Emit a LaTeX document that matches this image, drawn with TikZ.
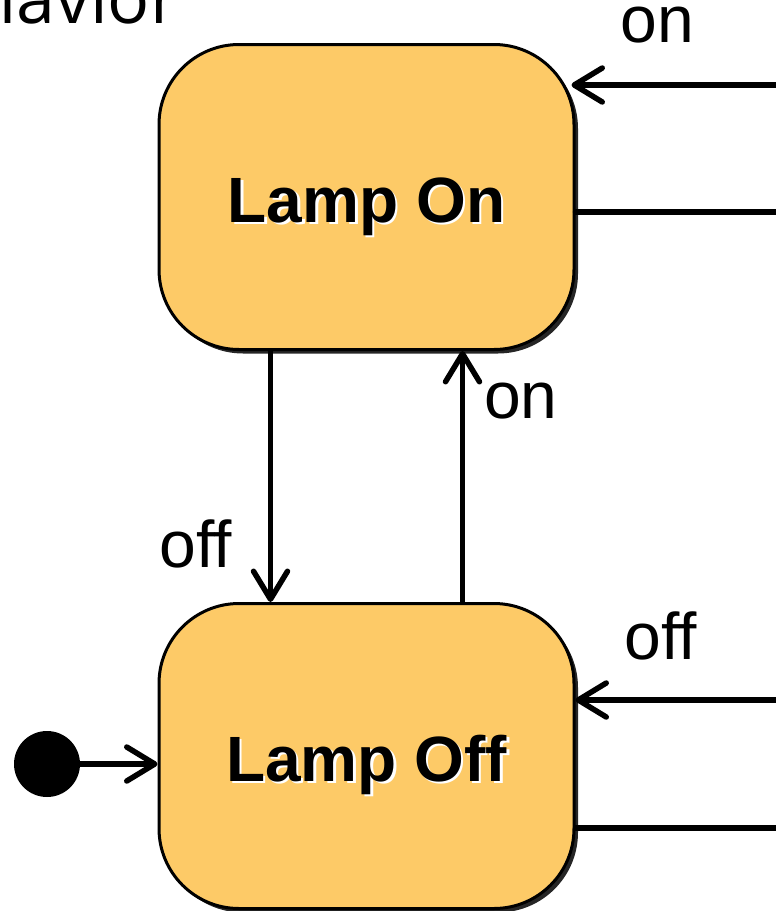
\documentclass[tikz,border=0pt]{standalone}
\usepackage{fontspec}
\setmainfont[Ligatures=NoCommon]{Liberation Sans}
\newfontfamily\titlefont{Open Sans}
\usetikzlibrary{arrows.meta,calc,shadows}
\definecolor{lampfill}{HTML}{FDCA67}
\newcommand{\whiteshade}[1]{\makebox[0pt][l]{\hspace{2.5pt}\raisebox{-2.5pt}{\color{white}#1}}#1}

\begin{document}
\begin{tikzpicture}[x=1pt,y=-1pt,>={Straight Barb[length=28pt,width=34pt,round]},
  state/.style={draw,line width=3pt,fill=lampfill,rounded corners=80pt,minimum width=415pt,minimum height=305pt,
    text height=50pt,text depth=0pt,font=\fontsize{64}{70}\selectfont\bfseries,
    drop shadow={shadow xshift=4pt,shadow yshift=-4pt,opacity=1,fill=black!85}},
  trans/.style={line width=5.5pt,line cap=round},
  lbl/.style={inner sep=0pt,font=\fontsize{66}{72}\selectfont}]
  \useasboundingbox (0,0) rectangle (776,911);
  \node[anchor=base east,inner sep=0pt,font=\titlefont\fontsize{70}{76}\selectfont] (title) at (179,23) {Behavior};
  \node[state] (on) at (366.5,197) {\whiteshade{Lamp On}};
  \node[state] (off) at (366.5,756) {\whiteshade{Lamp Off}};
  \node[circle,fill,inner sep=0pt,minimum size=66pt] (init) at (47,764) {};
  % free ends at the right border
  \coordinate (onIn) at (776,85);
  \coordinate (onOut) at (776,212);
  \coordinate (offIn) at (776,700);
  \coordinate (offOut) at (776,828);
  \draw[trans,->] (onIn) -- ([xshift=-4pt]onIn -| on.east) node[lbl,pos=0.58,above=39pt] {on};
  \draw[trans] (on.east |- onOut) -- (onOut);
  \draw[trans,->] ([xshift=-96pt]on.south) -- ([xshift=-96pt]off.north) node[lbl,pos=0.77,left=36pt] {off};
  \draw[trans,->] ([xshift=96pt]off.north) -- ([xshift=96pt]on.south) node[lbl,pos=0.8,right=19pt] {on};
  \draw[trans,->] (offIn) -- (offIn -| off.east) node[lbl,pos=0.575,above=37pt] {off};
  \draw[trans] (off.east |- offOut) -- (offOut);
  \draw[trans,->] (init) -- (init -| off.west);
\end{tikzpicture}
\end{document}
